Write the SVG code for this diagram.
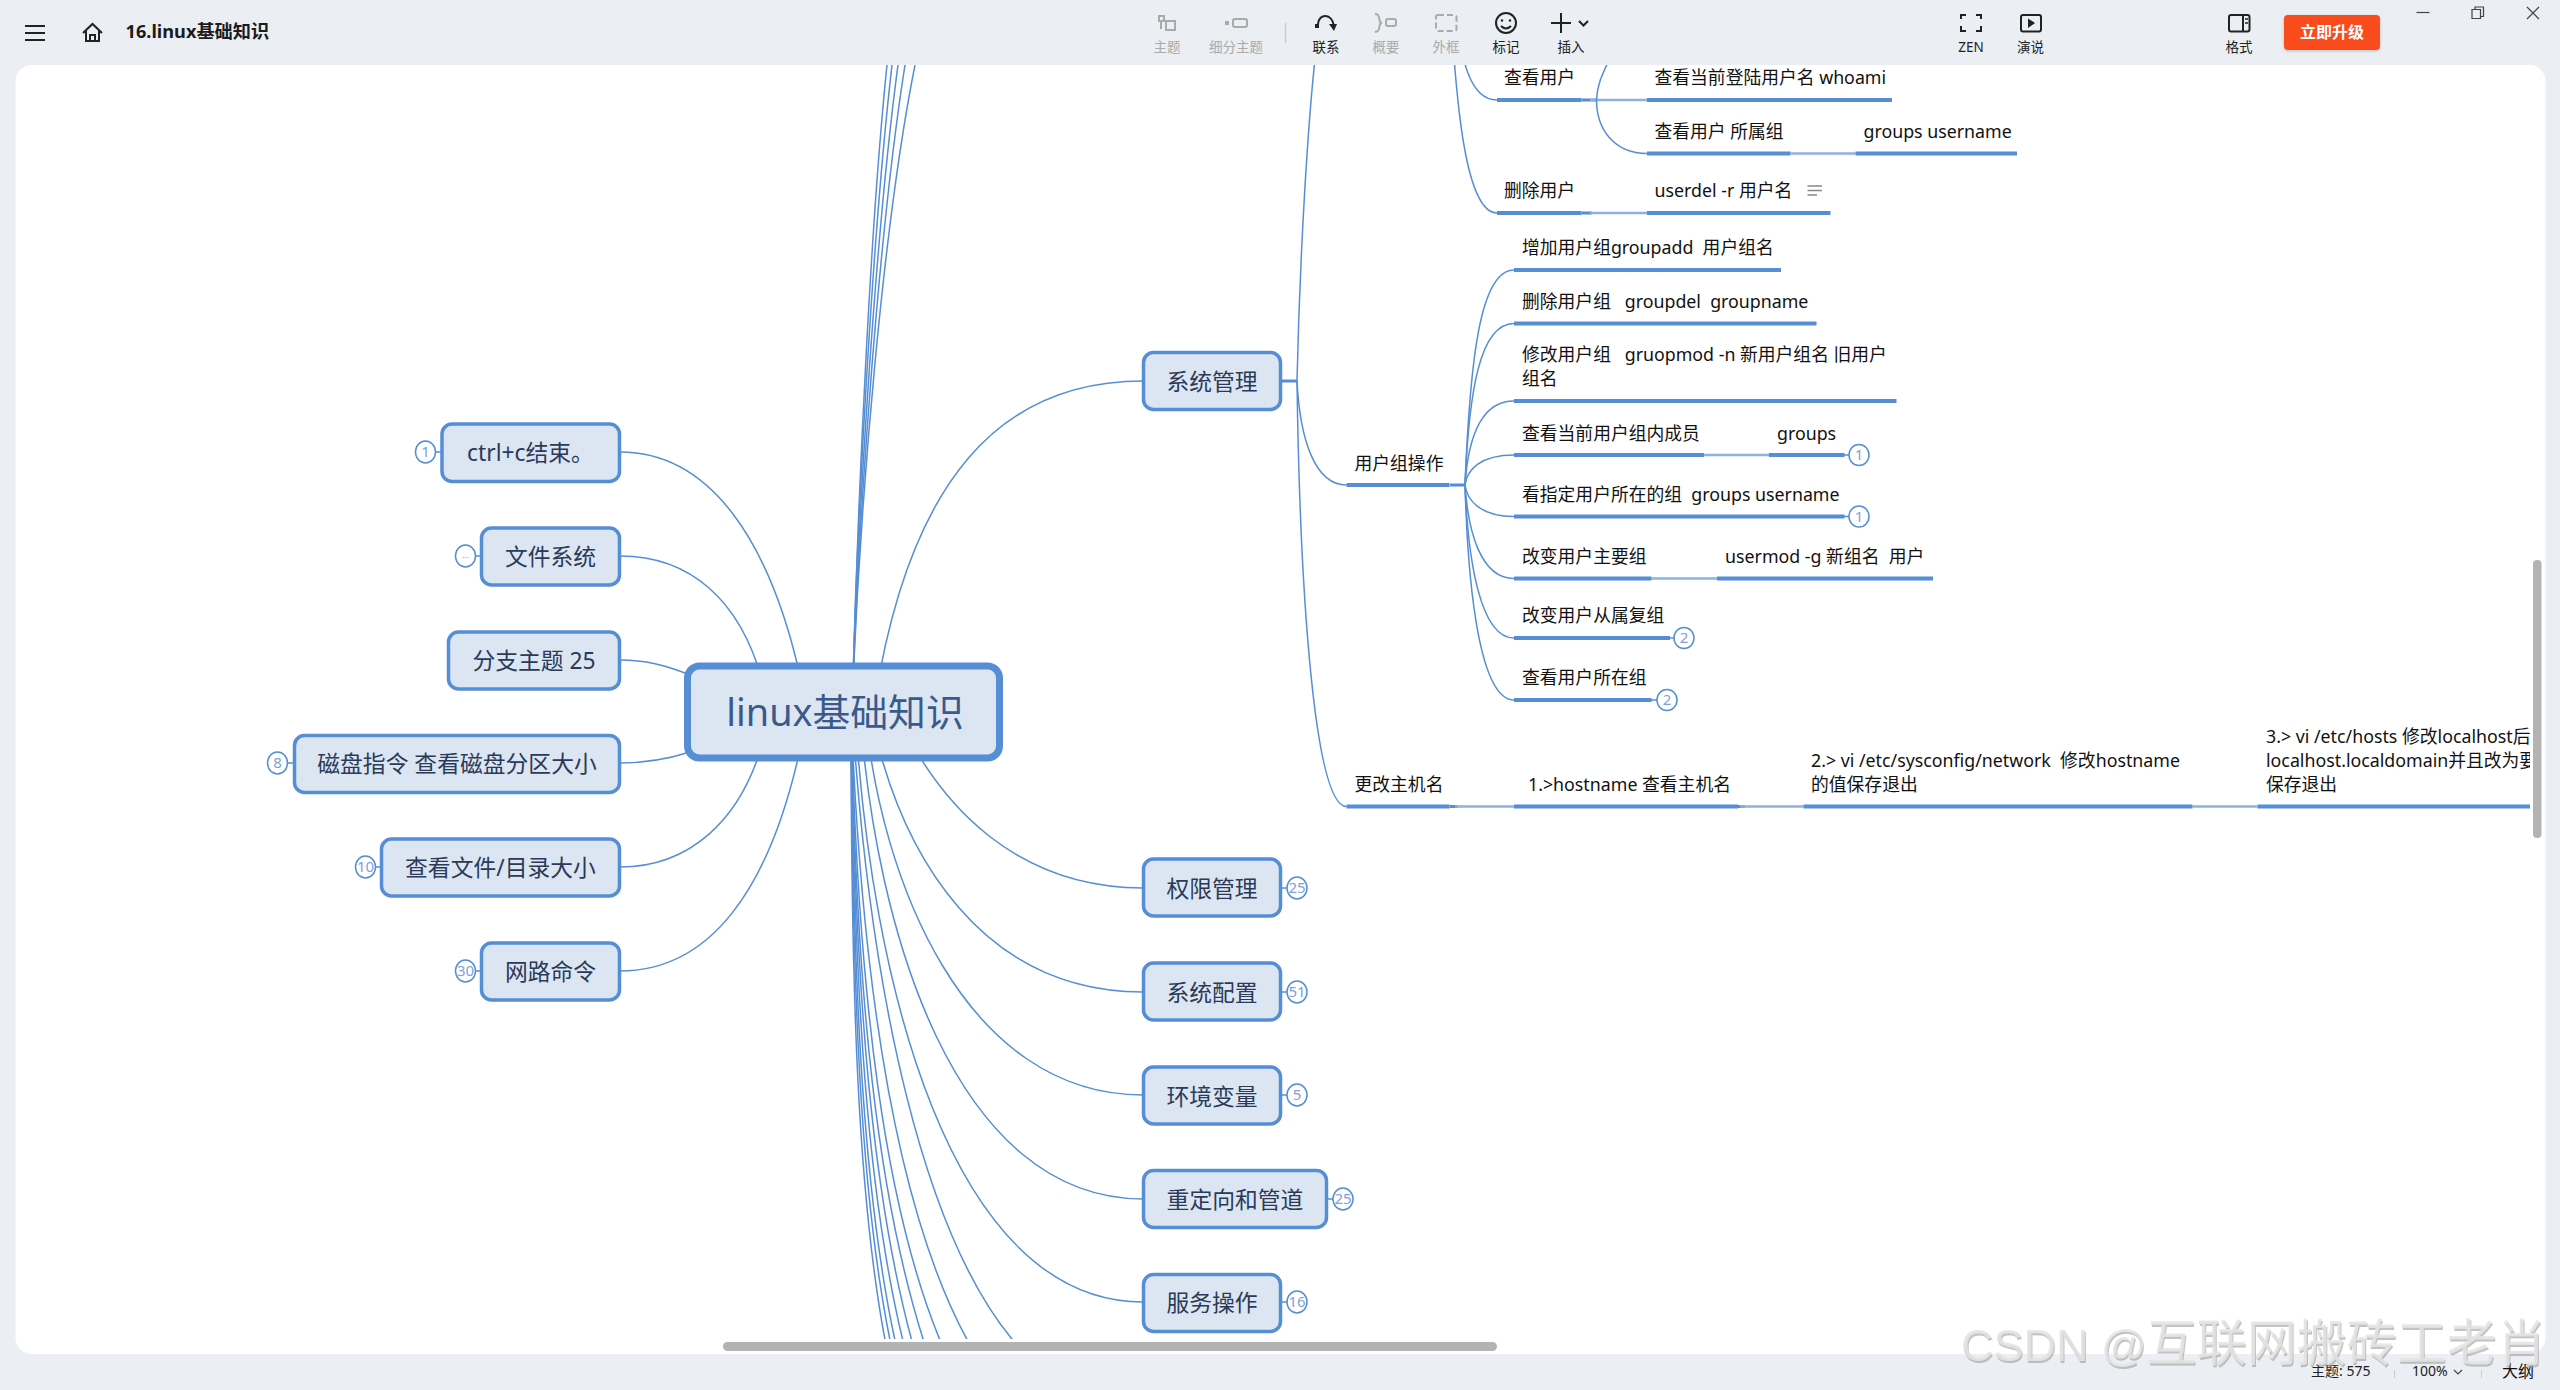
<svg xmlns="http://www.w3.org/2000/svg" width="2560" height="1390" viewBox="0 0 2560 1390">
<style>
text{font-family:"Noto Sans","Noto Sans CJK SC",sans-serif}
.n rect{fill:#dce6f2;stroke:#558ed5;stroke-width:3.5}
.n text{font-size:22.800px;fill:#2a3a58;text-anchor:middle}
.c{fill:none;stroke:#558ed5;stroke-width:1.5}
.stub{fill:none;stroke:#558ed5;stroke-width:3}
.thin{fill:none;stroke:#8eb0e3;stroke-width:2.5}
.u{stroke:#558ed5;stroke-width:4}
.s text{font-size:17.800px;fill:#111}
.b ellipse{fill:#fff;stroke:#558ed5;stroke-width:1.5}
.b line{stroke:#558ed5;stroke-width:1.5}
.b text{font-size:15px;fill:#7f9fdc;text-anchor:middle}
.tl{font-size:13.5px;text-anchor:middle;fill:#222}
.dis{fill:#aaa}
.ig{fill:none;stroke:#aaa;stroke-width:2}
.ik{fill:none;stroke:#222;stroke-width:2}
</style>
<defs>
<clipPath id="cv"><rect x="15" y="65" width="2515" height="1274"/></clipPath>
<clipPath id="cv3"><rect x="15" y="65" width="2515" height="1274"/></clipPath>
<filter id="wm" x="-5%" y="-20%" width="110%" height="140%"><feDropShadow dx="1" dy="2" stdDeviation="0.6" flood-color="#999" flood-opacity="0.7"/></filter>
<filter id="bs" x="-10%" y="-20%" width="120%" height="140%"><feDropShadow dx="0" dy="1" stdDeviation="1.5" flood-color="#000" flood-opacity="0.2"/></filter>
</defs>
<rect width="2560" height="1390" fill="#ebeef2"/>
<rect x="15.500" y="65" width="2530" height="1289" rx="16" fill="#fff"/>

<g id="toolbar">
<path class="ik" d="M25 26H45M25 33H45M25 40H45"/>
<path class="ik" d="M83 33L92.500 24L102 33M86 31V41H99V31M90 41V35H95V41" stroke-width="1.800"/>
<text x="125.500" y="38" font-size="18.200" font-weight="700" fill="#1c1c1c">16.linux基础知识</text>
<path class="ig" d="M1159 16h5v5h-5zM1161 21v8M1166 21h9v9h-9z"/>
<text class="tl dis" x="1167" y="52">主题</text>
<rect x="1225" y="21" width="4" height="4" fill="#aaa"/><rect class="ig" x="1233" y="19" width="14" height="8" rx="2"/>
<text class="tl dis" x="1236" y="52">细分主题</text>
<line x1="1285.500" y1="23" x2="1285.500" y2="43" stroke="#ccc" stroke-width="1.500"/>
<path class="ik" d="M1318 24C1319 13 1332 13 1334 26"/><rect x="1315" y="24" width="4" height="4" fill="#222"/><path d="M1329 24L1337 24L1334 31Z" fill="#222"/>
<text class="tl" x="1326" y="52">联系</text>
<path class="ig" d="M1375 14C1382 14 1377 23 1382 23C1377 23 1382 32 1375 32"/><rect class="ig" x="1386" y="19" width="10" height="7" rx="2"/>
<text class="tl dis" x="1386" y="52">概要</text>
<rect class="ig" x="1436" y="15" width="20.500" height="16" rx="2" stroke-dasharray="6 3"/>
<text class="tl dis" x="1446" y="52">外框</text>
<circle class="ik" cx="1506" cy="23" r="10"/><circle cx="1502" cy="20.500" r="1.200" fill="#222"/><circle cx="1510" cy="20.500" r="1.200" fill="#222"/><path class="ik" d="M1501 26Q1506 31 1511 26" stroke-width="1.500"/>
<text class="tl" x="1506" y="52">标记</text>
<path class="ik" d="M1551 23H1571M1561 13V33" stroke-width="2.200"/><path class="ik" d="M1579 21L1583.500 25.500L1588 21" stroke-width="1.800"/>
<text class="tl" x="1571" y="52">插入</text>
<path class="ik" d="M1961 19V15H1966M1976 15H1981V19M1981 26V31H1976M1966 31H1961V26"/>
<text class="tl" x="1971" y="52" fill="#333">ZEN</text>
<rect class="ik" x="2021" y="15" width="20" height="16.500" rx="2"/><path d="M2028 18.500L2035 23L2028 28Z" fill="#222"/>
<text class="tl" x="2030.500" y="52">演说</text>
<rect class="ik" x="2229" y="15" width="20.500" height="16.500" rx="2"/><path class="ik" d="M2243 15V31"/><path d="M2245 19h3M2245 23h3" stroke="#222" stroke-width="1.500"/>
<text class="tl" x="2239" y="52">格式</text>
<rect x="2284" y="15" width="96" height="35" rx="4" fill="#fa4b1f" filter="url(#bs)"/>
<text x="2332" y="38" font-size="16" font-weight="700" fill="#fff" text-anchor="middle">立即升级</text>
<path d="M2416.500 12.500H2429.500" stroke="#444" stroke-width="1.200"/>
<path d="M2472 9.500h8.500v9h-8.500zM2475 9.500V7h8.500v9.500H2481" fill="none" stroke="#444" stroke-width="1.200"/>
<path d="M2527 7L2539 19M2539 7L2527 19" stroke="#444" stroke-width="1.200"/>
</g>

<g id="connectors" clip-path="url(#cv)">
<path class="c" d="M620 452C710 452 770 540 801 680"/>
<path class="c" d="M620 556C690 556 740 600 762 680"/>
<path class="c" d="M620 660C645 660 665 665 690 675"/>
<path class="c" d="M620 763C645 763 665 760 690 752"/>
<path class="c" d="M620 867C690 867 740 820 762 745"/>
<path class="c" d="M620 971C710 971 770 890 801 745"/>
<path class="c" d="M875 700C910 480 1000 381 1143 381"/>
<path class="c" d="M853 680C858 500 870 230 887 65"/>
<path class="c" d="M853 680C858 500 873 230 892 65"/>
<path class="c" d="M853 680C859 500 876 230 898 65"/>
<path class="c" d="M853 680C860 500 879 230 905 65"/>
<path class="c" d="M853 680C861 500 882 230 915 65"/>
<path class="c" d="M895 710C940 810 1020 888 1143 888"/>
<path class="c" d="M870 710C900 860 985 992 1143 992"/>
<path class="c" d="M865 710C880 880 965 1095 1143 1095"/>
<path class="c" d="M860 710C875 930 955 1199 1143 1199"/>
<path class="c" d="M855 710C870 980 950 1302 1143 1302"/>
<path class="c" d="M852 710C870 1000 925 1240 1017 1345"/>
<path class="c" d="M851 710C862 1000 900 1220 970 1345"/>
<path class="c" d="M851 710C858 1000 885 1210 942 1345"/>
<path class="c" d="M851 710C856 1000 878 1200 925 1345"/>
<path class="c" d="M851 710C855 1000 873 1200 913 1345"/>
<path class="c" d="M851 710C854 1000 868 1200 904 1345"/>
<path class="c" d="M851 710C853 1000 864 1200 896 1345"/>
<path class="c" d="M851 710C852 1000 861 1200 891 1345"/>
<path class="c" d="M851 710C851 1000 858 1200 886 1345"/>
<path class="stub" d="M1281 381H1297"/>
<path class="c" d="M1297 381C1300 250 1308 120 1316 50"/>
<path class="c" d="M1297 381C1300 440 1315 485 1346.500 485"/>
<path class="c" d="M1297 381C1300 600 1315 806.500 1346.500 806.500"/>
<path class="c" d="M1455 0C1460 60 1470 100 1497 100"/>
<path class="c" d="M1450 0C1456 100 1465 213 1497 213"/>
<path class="stub" d="M1581.500 100H1597M1581.500 213H1592M1450 485H1465M1738 806.500H1745M1449.500 806.500H1458"/>
<path class="thin" d="M1590 100H1647M1790.500 153.500H1855.500M1590 213H1647M1704 455H1769M1651.500 578.500H1717M1455 806.500H1514M1740 806.500H1803.500M2192.500 806.500H2257.500"/>
<path class="c" d="M1596.500 100C1596.500 130 1615 153.500 1647 153.500"/>
<path class="c" d="M1596.500 100C1597 85 1602 75 1610 58"/>
<path class="c" d="M1465 485C1470 360 1480 270 1514 270"/>
<path class="c" d="M1465 485C1469 390 1480 323.500 1514 323.500"/>
<path class="c" d="M1465 485C1468 440 1480 401 1514 401"/>
<path class="c" d="M1465 485C1467 470 1480 455 1514 455"/>
<path class="c" d="M1465 485C1467 500 1480 516.500 1514 516.500"/>
<path class="c" d="M1465 485C1468 530 1480 578.500 1514 578.500"/>
<path class="c" d="M1465 485C1468 560 1480 638 1514 638"/>
<path class="c" d="M1465 485C1468 590 1480 700 1514 700"/>
</g>

<g id="root" class="n"><rect x="687.500" y="666" width="312" height="92" rx="12" style="stroke-width:7"/><text x="845" y="726" style="font-size:37.800px;fill:#3a5a8c">linux基础知识</text></g>

<g id="n-ctrlc" class="n"><rect x="442" y="424" width="177.500" height="57.500" rx="10"/><text x="530.500" y="461">ctrl+c结束。</text></g>
<g id="b-ctrlc" class="b"><line x1="436" y1="452" x2="442" y2="452"/><ellipse cx="425.500" cy="452" rx="10" ry="11"/><text x="425.500" y="457">1</text></g>
<g id="n-fs" class="n"><rect x="481.500" y="528" width="138" height="57" rx="10"/><text x="550.500" y="565">文件系统</text></g>
<g id="b-fs" class="b"><line x1="476" y1="556" x2="482" y2="556"/><ellipse cx="465.500" cy="556" rx="10" ry="11"/><text x="465.500" y="558" style="font-size:9px">...</text></g>
<g id="n-25" class="n"><rect x="448.500" y="632" width="171" height="57" rx="10"/><text x="534" y="669">分支主题 25</text></g>
<g id="n-disk" class="n"><rect x="294.500" y="735.500" width="325" height="57" rx="10"/><text x="457" y="772">磁盘指令 查看磁盘分区大小</text></g>
<g id="b-disk" class="b"><line x1="288" y1="763" x2="295" y2="763"/><ellipse cx="277.500" cy="763" rx="10" ry="11"/><text x="277.500" y="768">8</text></g>
<g id="n-size" class="n"><rect x="381.500" y="839" width="238" height="57" rx="10"/><text x="500.500" y="876">查看文件/目录大小</text></g>
<g id="b-size" class="b"><line x1="376" y1="867" x2="382" y2="867"/><ellipse cx="365.500" cy="867" rx="10" ry="11"/><text x="365.500" y="872">10</text></g>
<g id="n-net" class="n"><rect x="481.500" y="943" width="138" height="57" rx="10"/><text x="550.500" y="980">网路命令</text></g>
<g id="b-net" class="b"><line x1="476" y1="971" x2="482" y2="971"/><ellipse cx="465.500" cy="971" rx="10" ry="11"/><text x="465.500" y="976">30</text></g>

<g id="n-sys" class="n"><rect x="1143.500" y="352.500" width="137" height="57" rx="10"/><text x="1212" y="390">系统管理</text></g>
<g id="n-perm" class="n"><rect x="1143.500" y="859" width="137" height="57" rx="10"/><text x="1212" y="896.500">权限管理</text></g>
<g id="b-perm" class="b"><line x1="1281" y1="888" x2="1287" y2="888"/><ellipse cx="1297" cy="888" rx="10" ry="11"/><text x="1297" y="893">25</text></g>
<g id="n-conf" class="n"><rect x="1143.500" y="963" width="137" height="57" rx="10"/><text x="1212" y="1000.500">系统配置</text></g>
<g id="b-conf" class="b"><line x1="1281" y1="992" x2="1287" y2="992"/><ellipse cx="1297" cy="992" rx="10" ry="11"/><text x="1297" y="997">51</text></g>
<g id="n-env" class="n"><rect x="1143.500" y="1067" width="137" height="57" rx="10"/><text x="1212" y="1104.500">环境变量</text></g>
<g id="b-env" class="b"><line x1="1281" y1="1095" x2="1287" y2="1095"/><ellipse cx="1297" cy="1095" rx="10" ry="11"/><text x="1297" y="1100">5</text></g>
<g id="n-redir" class="n"><rect x="1143.500" y="1170.500" width="183" height="57" rx="10"/><text x="1235" y="1208">重定向和管道</text></g>
<g id="b-redir" class="b"><line x1="1327" y1="1199" x2="1333" y2="1199"/><ellipse cx="1343" cy="1199" rx="10" ry="11"/><text x="1343" y="1204">25</text></g>
<g id="n-svc" class="n"><rect x="1143.500" y="1274.500" width="137" height="57" rx="10"/><text x="1212" y="1311">服务操作</text></g>
<g id="b-svc" class="b"><line x1="1281" y1="1302" x2="1287" y2="1302"/><ellipse cx="1297" cy="1302" rx="10" ry="11"/><text x="1297" y="1307">16</text></g>

<g id="s-view" class="s"><line class="u" x1="1497" y1="100" x2="1581.500" y2="100"/><text x="1504" y="84">查看用户</text></g>
<g id="s-whoami" class="s"><line class="u" x1="1647" y1="100" x2="1892" y2="100"/><text x="1654.500" y="84">查看当前登陆用户名 whoami</text></g>
<g id="s-belong" class="s"><line class="u" x1="1647" y1="153.500" x2="1790.500" y2="153.500"/><text x="1654.500" y="138">查看用户 所属组</text></g>
<g id="s-groups-u" class="s"><line class="u" x1="1855.500" y1="153.500" x2="2017" y2="153.500"/><text x="1863.500" y="138">groups username</text></g>
<g id="s-del" class="s"><line class="u" x1="1497" y1="213" x2="1581.500" y2="213"/><text x="1504" y="197">删除用户</text></g>
<g id="s-userdel" class="s"><line class="u" x1="1647" y1="213" x2="1830.500" y2="213"/><text x="1654.500" y="197">userdel -r 用户名</text><path d="M1807.500 186H1822M1807.500 190.500H1822M1807.500 195H1817" stroke="#888" stroke-width="1.500"/></g>
<g id="s-group" class="s"><line class="u" x1="1346.500" y1="485" x2="1449.500" y2="485"/><text x="1354.500" y="470">用户组操作</text></g>
<g id="s-gadd" class="s"><line class="u" x1="1514" y1="270" x2="1781" y2="270"/><text x="1522" y="254" xml:space="preserve">增加用户组groupadd  用户组名</text></g>
<g id="s-gdel" class="s"><line class="u" x1="1514" y1="323.500" x2="1816.500" y2="323.500"/><text x="1522" y="308" xml:space="preserve">删除用户组   groupdel  groupname</text></g>
<g id="s-gmod" class="s"><line class="u" x1="1514" y1="401" x2="1896.500" y2="401"/><text x="1522" y="361" xml:space="preserve">修改用户组   gruopmod -n 新用户组名 旧用户</text><text x="1522" y="385">组名</text></g>
<g id="s-gmem" class="s"><line class="u" x1="1514" y1="455" x2="1704" y2="455"/><text x="1522" y="439.500">查看当前用户组内成员</text></g>
<g id="s-gr" class="s"><line class="u" x1="1769" y1="455" x2="1844.500" y2="455"/><text x="1777" y="439.500">groups</text></g>
<g id="b-gr" class="b"><line x1="1844" y1="455" x2="1849" y2="455"/><ellipse cx="1859" cy="455" rx="10" ry="10.500"/><text x="1859" y="460">1</text></g>
<g id="s-gwhich" class="s"><line class="u" x1="1514" y1="516.500" x2="1844.500" y2="516.500"/><text x="1522" y="501" xml:space="preserve">看指定用户所在的组  groups username</text></g>
<g id="b-gwhich" class="b"><line x1="1844" y1="516.500" x2="1849" y2="516.500"/><ellipse cx="1859" cy="516.500" rx="10" ry="10.500"/><text x="1859" y="521.500">1</text></g>
<g id="s-gmain" class="s"><line class="u" x1="1514" y1="578.500" x2="1651.500" y2="578.500"/><text x="1522" y="562.500">改变用户主要组</text></g>
<g id="s-usermod" class="s"><line class="u" x1="1717" y1="578.500" x2="1933" y2="578.500"/><text x="1725" y="562.500" xml:space="preserve">usermod -g 新组名  用户</text></g>
<g id="s-gsub" class="s"><line class="u" x1="1514" y1="638" x2="1670" y2="638"/><text x="1522" y="622">改变用户从属复组</text></g>
<g id="b-gsub" class="b"><line x1="1669" y1="638" x2="1674" y2="638"/><ellipse cx="1684" cy="638" rx="10" ry="10.500"/><text x="1684" y="643">2</text></g>
<g id="s-gwhere" class="s"><line class="u" x1="1514" y1="700" x2="1651.500" y2="700"/><text x="1522" y="684">查看用户所在组</text></g>
<g id="b-gwhere" class="b"><line x1="1651" y1="700" x2="1657" y2="700"/><ellipse cx="1667" cy="700" rx="10" ry="10.500"/><text x="1667" y="705">2</text></g>
<g id="s-host" class="s"><line class="u" x1="1346.500" y1="806.500" x2="1449.500" y2="806.500"/><text x="1354.500" y="791">更改主机名</text></g>
<g id="s-h1" class="s"><line class="u" x1="1514" y1="806.500" x2="1738" y2="806.500"/><text x="1528" y="791">1.&gt;hostname 查看主机名</text></g>
<g id="s-h2" class="s"><line class="u" x1="1803.500" y1="806.500" x2="2192.500" y2="806.500"/><text x="1811" y="767" xml:space="preserve">2.&gt; vi /etc/sysconfig/network  修改hostname</text><text x="1811" y="791">的值保存退出</text></g>
<g id="s-h3" class="s" clip-path="url(#cv3)"><line class="u" x1="2257.500" y1="806.500" x2="2540" y2="806.500"/><text x="2266" y="743">3.&gt; vi /etc/hosts 修改localhost后</text><text x="2266" y="767">localhost.localdomain并且改为要</text><text x="2266" y="791">保存退出</text></g>

<g id="scrollbars">
<rect x="723" y="1342" width="774" height="9" rx="4.500" fill="#b3b3b3"/>
<rect x="2533" y="560" width="8.500" height="278" rx="4" fill="#b3b3b3"/>
</g>

<g id="statusbar">
<text x="2311" y="1376" font-size="14" fill="#222">主题: 575</text>
<line x1="2394.500" y1="1370" x2="2394.500" y2="1378" stroke="#ccc"/>
<text x="2412" y="1376" font-size="14" fill="#222">100%</text>
<path d="M2454 1370L2458 1374L2462 1370" fill="none" stroke="#444" stroke-width="1.200"/>
<line x1="2481.500" y1="1370" x2="2481.500" y2="1378" stroke="#ccc"/>
<text x="2502" y="1377" font-size="16" fill="#111">大纲</text>
</g>

<text id="watermark" x="1961" y="1361" font-size="50" fill="#e4e4e4" fill-opacity="0.85" filter="url(#wm)" style="font-family:'Liberation Sans','Noto Sans CJK SC',sans-serif"><tspan font-size="45">CSDN @</tspan>互联网搬砖工老肖</text>
</svg>
